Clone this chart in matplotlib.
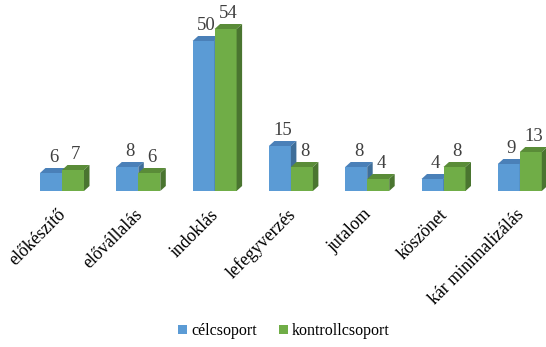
import numpy as np
import matplotlib
matplotlib.use("Agg")
import matplotlib.pyplot as plt
from matplotlib.patches import Polygon, Patch
from matplotlib.font_manager import FontProperties

categories = ["előkészítő", "elővállalás", "indoklás", "lefegyverzés",
              "jutalom", "köszönet", "kár minimalizálás"]
celcsoport = [6, 8, 50, 15, 8, 4, 9]
kontroll = [7, 6, 54, 8, 4, 8, 13]
series_names = ["célcsoport", "kontrollcsoport"]

FAM = 'Liberation Serif'

W, H = 546, 347
fig = plt.figure(figsize=(W / 100, H / 100), dpi=100)
ax = fig.add_axes([0, 0, 1, 1])

# pixel scale setup
px_per_cat = 76.3
cx0 = 62.0          # pixel x of first group center
base_y = 191.0      # pixel y (from top) of bar base
px_per_val = 3.0
ax.set_xlim(-cx0 / px_per_cat, (W - cx0) / px_per_cat)
ax.set_ylim((base_y - H) / px_per_val, base_y / px_per_val)
ax.axis('off')

bw = 22 / px_per_cat
dx = 5.5 / px_per_cat
dy = 5.0 / px_per_val

colors = {
    "front": ["#5B9BD5", "#70AD47"],
    "top": ["#4A80B8", "#5A8C38"],
    "side": ["#3F6E99", "#4A7530"],
}

x = np.arange(len(categories))
for s, (vals, off) in enumerate([(celcsoport, -bw / 2), (kontroll, bw / 2)]):
    xs = x + off
    ax.bar(xs, vals, width=bw, color=colors["front"][s], edgecolor='none', zorder=3 + s)
    for xi, v in zip(xs, vals):
        l, r = xi - bw / 2, xi + bw / 2
        top = Polygon([(l, v), (r, v), (r + dx, v + dy), (l + dx, v + dy)],
                      closed=True, color=colors["top"][s], lw=0, zorder=3 + s)
        side = Polygon([(r, 0), (r + dx, dy), (r + dx, v + dy), (r, v)],
                       closed=True, color=colors["side"][s], lw=0, zorder=3 + s)
        ax.add_patch(top)
        ax.add_patch(side)
        ax.text(xi + dx / 2, v + dy + 0.6, str(v), ha='center', va='bottom',
                fontsize=13.5, color='#404040', zorder=6, family=FAM)

label_y = (base_y - 206) / px_per_val
for xi, lab in zip(x, categories):
    ax.text(xi - 0.06, label_y, lab, rotation=45, rotation_mode='anchor',
            ha='right', va='top', fontsize=12.8, color='#000000', family=FAM)

handles = [Patch(facecolor=colors["front"][0]), Patch(facecolor=colors["front"][1])]
fig.legend(handles, series_names, loc='center', bbox_to_anchor=(0.52, 1 - 331 / H),
           ncol=2, frameon=False, prop=FontProperties(family=FAM, size=11.5),
           handlelength=0.55, handleheight=0.55,
           handletextpad=0.25, columnspacing=1.4)

fig.savefig("out.png", dpi=100)
